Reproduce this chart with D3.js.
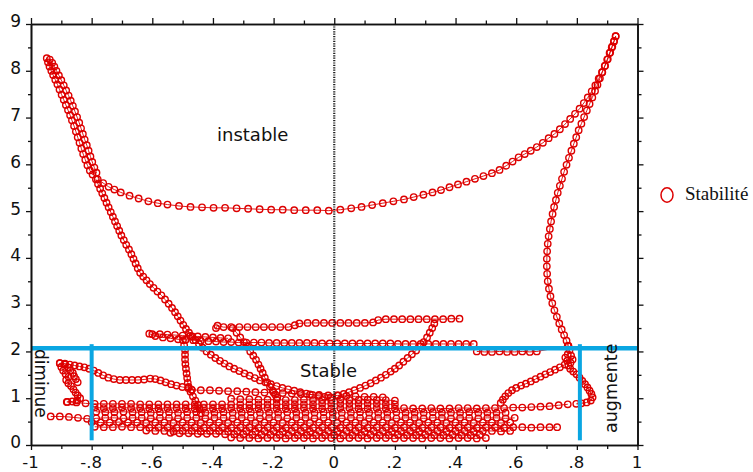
<!DOCTYPE html>
<html><head><meta charset="utf-8">
<script src="https://cdn.jsdelivr.net/npm/d3@7"></script>
<style>body{margin:0;background:#fff}svg{display:block}</style>
</head><body><svg id="c" width="753" height="472"></svg>
<script>
// ---------- axis ticks ----------
const xMajor = [-1,-0.8,-0.6,-0.4,-0.2,0,0.2,0.4,0.6,0.8,1];
const xMinor = [-0.9,-0.7,-0.5,-0.3,-0.1,0.1,0.3,0.5,0.7,0.9];
const xLabels = ["-1","-.8","-.6","-.4","-.2","0",".2",".4",".6",".8","1"];
const yMajor = [0,1,2,3,4,5,6,7,8,9];
const yMinor = [0.5,1.5,2.5,3.5,4.5,5.5,6.5,7.5,8.5];
const yLabels = ["0","1","2","3","4","5","6","7","8","9"];

// ---------- annotations ----------
const thresholdY = 2.07, leftMarkX = -0.80, rightMarkX = 0.81, markBottom = 0.10;
const seriesName = "Stabilité";

// ---------- series "Stabilité" (trajectory pieces) ----------
const topLeftBand = [[-0.948,8.27],[-0.944,8.18],[-0.939,8.09],[-0.933,8.00],[-0.927,7.91],[-0.920,7.81],[-0.913,7.71],[-0.906,7.60],[-0.899,7.49],[-0.892,7.38],[-0.885,7.27],[-0.878,7.16],[-0.871,7.05],[-0.865,6.94],[-0.858,6.82],[-0.852,6.70],[-0.846,6.58],[-0.840,6.46],[-0.834,6.34],[-0.828,6.22],[-0.821,6.10],[-0.814,5.98],[-0.806,5.87],[-0.797,5.78],[-0.784,5.82],[-0.791,5.93],[-0.798,6.05],[-0.804,6.17],[-0.810,6.29],[-0.816,6.41],[-0.823,6.53],[-0.829,6.65],[-0.835,6.77],[-0.841,6.89],[-0.848,7.01],[-0.855,7.13],[-0.862,7.25],[-0.869,7.36],[-0.876,7.47],[-0.884,7.58],[-0.892,7.69],[-0.900,7.80],[-0.908,7.90],[-0.916,8.00],[-0.923,8.09],[-0.930,8.17],[-0.938,8.24]];
const instableArc = [[-0.780,5.68],[-0.762,5.60],[-0.744,5.52],[-0.725,5.46],[-0.704,5.40],[-0.675,5.33],[-0.645,5.27],[-0.613,5.21],[-0.582,5.17],[-0.550,5.14],[-0.512,5.11],[-0.474,5.09],[-0.436,5.08],[-0.398,5.07],[-0.360,5.07],[-0.322,5.06],[-0.284,5.05],[-0.246,5.04],[-0.208,5.03],[-0.170,5.03],[-0.132,5.02],[-0.094,5.02],[-0.056,5.02],[-0.018,5.01],[0.020,5.03],[0.056,5.06],[0.090,5.09],[0.125,5.13],[0.160,5.17],[0.195,5.21],[0.230,5.25],[0.262,5.30],[0.294,5.35],[0.324,5.40],[0.352,5.45],[0.380,5.51],[0.408,5.57],[0.436,5.63],[0.464,5.69],[0.492,5.75],[0.520,5.81],[0.545,5.88],[0.567,5.97],[0.588,6.06],[0.608,6.15],[0.628,6.22],[0.648,6.29],[0.668,6.37],[0.688,6.46],[0.707,6.56],[0.726,6.65],[0.744,6.75],[0.761,6.86],[0.778,6.97],[0.794,7.08],[0.809,7.19],[0.823,7.31],[0.836,7.43],[0.849,7.56],[0.861,7.69],[0.872,7.83],[0.883,7.97],[0.893,8.11],[0.902,8.25],[0.910,8.39],[0.917,8.52],[0.923,8.64],[0.928,8.74]];
const rightDescent = [[0.928,8.74],[0.922,8.62],[0.915,8.50],[0.908,8.38],[0.900,8.24],[0.892,8.10],[0.884,7.97],[0.876,7.84],[0.868,7.70],[0.860,7.57],[0.851,7.43],[0.842,7.29],[0.833,7.15],[0.824,7.01],[0.815,6.87],[0.806,6.73],[0.798,6.58],[0.790,6.44],[0.782,6.29],[0.774,6.14],[0.766,5.99],[0.758,5.84],[0.751,5.69],[0.744,5.54],[0.737,5.39],[0.731,5.24],[0.725,5.09],[0.720,4.94],[0.715,4.78],[0.711,4.62],[0.707,4.46],[0.704,4.30],[0.702,4.14],[0.701,3.98],[0.701,3.82],[0.702,3.66],[0.704,3.50],[0.708,3.34],[0.713,3.18],[0.719,3.03],[0.726,2.88],[0.734,2.74],[0.742,2.60],[0.750,2.47],[0.758,2.35],[0.766,2.23],[0.772,2.12]];
const rightCluster = [[0.772,2.12],[0.776,2.03],[0.770,1.94],[0.762,1.87],[0.768,1.80],[0.779,1.76],[0.786,1.83],[0.781,1.91],[0.772,1.70],[0.778,1.63],[0.788,1.57],[0.799,1.51],[0.809,1.44],[0.818,1.37],[0.827,1.30],[0.835,1.23],[0.842,1.16],[0.848,1.09],[0.852,1.02],[0.846,0.95],[0.832,0.91],[0.815,0.89],[0.798,0.88]];
const rightDiagonal = [[0.760,1.72],[0.744,1.66],[0.728,1.61],[0.712,1.56],[0.696,1.51],[0.680,1.46],[0.664,1.41],[0.648,1.36],[0.632,1.31],[0.616,1.27],[0.600,1.22],[0.586,1.17],[0.574,1.11],[0.564,1.04],[0.556,0.97],[0.549,0.90]];
const rightShelf = [[0.470,2.00],[0.495,1.99],[0.520,1.99],[0.545,2.00],[0.570,1.99],[0.595,1.99],[0.620,2.00],[0.645,1.99],[0.668,2.00],[0.770,2.12]];
const leftDescent = [[-0.786,5.68],[-0.779,5.58],[-0.772,5.48],[-0.765,5.38],[-0.758,5.28],[-0.751,5.18],[-0.744,5.08],[-0.737,4.98],[-0.730,4.88],[-0.723,4.78],[-0.716,4.68],[-0.709,4.58],[-0.702,4.48],[-0.694,4.38],[-0.686,4.28],[-0.677,4.18],[-0.669,4.08],[-0.662,3.98],[-0.655,3.88],[-0.648,3.78],[-0.640,3.68],[-0.630,3.60],[-0.619,3.52],[-0.608,3.44],[-0.596,3.36],[-0.583,3.28],[-0.570,3.20],[-0.558,3.11],[-0.546,3.02],[-0.535,2.93],[-0.525,2.84],[-0.516,2.75],[-0.507,2.66],[-0.498,2.57],[-0.489,2.48],[-0.479,2.40],[-0.468,2.32],[-0.457,2.24],[-0.446,2.16],[-0.434,2.08],[-0.421,2.00],[-0.407,1.93],[-0.392,1.86],[-0.377,1.80],[-0.362,1.74],[-0.346,1.68],[-0.330,1.63],[-0.313,1.58],[-0.296,1.53],[-0.279,1.48],[-0.262,1.43],[-0.245,1.38],[-0.227,1.34],[-0.209,1.30],[-0.190,1.26],[-0.171,1.22],[-0.152,1.19],[-0.132,1.16],[-0.112,1.13],[-0.092,1.10],[-0.072,1.07],[-0.052,1.05],[-0.032,1.03],[-0.012,1.02]];
const shelfUpper = [[-0.390,2.50],[-0.385,2.55],[-0.365,2.52],[-0.340,2.52],[-0.313,2.52],[-0.286,2.52],[-0.259,2.52],[-0.232,2.52],[-0.205,2.52],[-0.178,2.52],[-0.151,2.52],[-0.130,2.56],[-0.115,2.60],[-0.088,2.61],[-0.061,2.61],[-0.034,2.61],[-0.007,2.61],[0.020,2.61],[0.047,2.61],[0.074,2.61],[0.101,2.61],[0.128,2.62],[0.145,2.67],[0.170,2.69],[0.197,2.69],[0.224,2.69],[0.251,2.69],[0.278,2.69],[0.305,2.69],[0.332,2.69],[0.359,2.69],[0.386,2.70],[0.413,2.70]];
const shelfMid = [[-0.610,2.38],[-0.590,2.33],[-0.565,2.30],[-0.540,2.28],[-0.515,2.26],[-0.490,2.25],[-0.465,2.24],[-0.440,2.23],[-0.415,2.22],[-0.390,2.21],[-0.365,2.20],[-0.340,2.20],[-0.315,2.19],[-0.290,2.19],[-0.265,2.19],[-0.240,2.19],[-0.215,2.18],[-0.190,2.18],[-0.165,2.18],[-0.140,2.18],[-0.115,2.18],[-0.090,2.18],[-0.065,2.18],[-0.040,2.17],[-0.015,2.17],[0.010,2.17],[0.035,2.17],[0.060,2.17],[0.085,2.17],[0.110,2.17],[0.135,2.17],[0.160,2.17],[0.185,2.17],[0.210,2.16],[0.235,2.16],[0.260,2.16],[0.285,2.16],[0.310,2.16],[0.335,2.16],[0.360,2.16],[0.385,2.16],[0.410,2.16],[0.435,2.16],[0.460,2.16]];
const shelfMid2 = [[-0.600,2.37],[-0.575,2.37],[-0.550,2.36],[-0.525,2.35],[-0.500,2.34],[-0.475,2.33],[-0.450,2.32],[-0.425,2.31],[-0.400,2.30],[-0.375,2.29],[-0.350,2.28]];
const vRight = [[0.330,2.60],[0.323,2.50],[0.315,2.40],[0.306,2.30],[0.295,2.20],[0.283,2.11],[0.270,2.02],[0.256,1.94],[0.242,1.86],[0.228,1.78],[0.214,1.70],[0.200,1.63],[0.186,1.57],[0.170,1.50],[0.154,1.44],[0.137,1.38],[0.120,1.32],[0.103,1.27],[0.085,1.22],[0.067,1.17],[0.049,1.13],[0.031,1.09],[0.013,1.06]];
const dropA = [[-0.335,2.50],[-0.322,2.40],[-0.310,2.30],[-0.298,2.20],[-0.287,2.10],[-0.277,2.00],[-0.267,1.91],[-0.258,1.82],[-0.250,1.72],[-0.243,1.63],[-0.236,1.54],[-0.229,1.44],[-0.221,1.34],[-0.212,1.25],[-0.203,1.16],[-0.195,1.08],[-0.188,1.01]];
const dropB = [[-0.499,2.24],[-0.495,2.13],[-0.492,2.03],[-0.492,1.93],[-0.492,1.83],[-0.491,1.73],[-0.489,1.63],[-0.487,1.53],[-0.485,1.43],[-0.483,1.33],[-0.480,1.24],[-0.474,1.14],[-0.466,1.04],[-0.458,0.95],[-0.450,0.86],[-0.444,0.77],[-0.440,0.68]];
const leftLoop = [[-0.905,1.75],[-0.900,1.67],[-0.894,1.59],[-0.886,1.52],[-0.876,1.46],[-0.884,1.39],[-0.877,1.32],[-0.868,1.26],[-0.860,1.19],[-0.853,1.12],[-0.846,1.06],[-0.838,1.00],[-0.848,0.95],[-0.864,0.93],[-0.882,0.92]];
const leftLoop2 = [[-0.888,1.72],[-0.878,1.66],[-0.870,1.60],[-0.862,1.54],[-0.858,1.47],[-0.852,1.41],[-0.846,1.34]];
const leftRow = [[-0.905,1.75],[-0.888,1.74],[-0.872,1.72],[-0.856,1.70],[-0.840,1.68],[-0.824,1.66],[-0.808,1.63],[-0.793,1.59],[-0.778,1.54],[-0.762,1.49],[-0.745,1.44],[-0.727,1.41],[-0.707,1.39],[-0.687,1.39],[-0.667,1.39],[-0.647,1.39],[-0.627,1.40],[-0.607,1.42],[-0.590,1.41],[-0.573,1.38],[-0.556,1.34],[-0.538,1.30],[-0.520,1.27],[-0.501,1.24],[-0.482,1.22],[-0.470,1.18]];
const rowA = [[-0.47,1.18],[-0.44,1.17],[-0.41,1.17],[-0.38,1.16],[-0.35,1.15],[-0.32,1.15],[-0.29,1.14],[-0.26,1.13],[-0.23,1.12],[-0.20,1.12],[-0.17,1.11],[-0.14,1.10],[-0.11,1.09],[-0.08,1.08],[-0.05,1.07],[-0.02,1.06],[0.01,1.06],[0.04,1.05],[0.07,1.04],[0.10,1.03],[0.13,1.03],[0.16,1.02]];
const rowB = [[-0.34,0.99],[-0.31,0.98],[-0.28,0.98],[-0.25,0.97],[-0.22,0.97],[-0.19,0.97],[-0.16,0.96],[-0.13,0.96],[-0.10,0.97],[-0.07,0.96],[-0.04,0.96],[-0.01,0.96],[0.02,0.97],[0.05,0.96],[0.08,0.96],[0.11,0.97],[0.14,0.96],[0.17,0.96],[0.20,0.95]];
const rowC = [[-0.88,0.92],[-0.85,0.91],[-0.82,0.89],[-0.79,0.88],[-0.76,0.88],[-0.73,0.88],[-0.70,0.88],[-0.67,0.88],[-0.64,0.87],[-0.61,0.87],[-0.58,0.87],[-0.55,0.87],[-0.52,0.87],[-0.49,0.87],[-0.46,0.87],[-0.43,0.87],[-0.40,0.87],[-0.37,0.87],[-0.34,0.87],[-0.31,0.87],[-0.28,0.87],[-0.25,0.87],[-0.22,0.87],[-0.19,0.87],[-0.16,0.87],[-0.13,0.87],[-0.10,0.87],[-0.07,0.87],[-0.04,0.88],[-0.01,0.88],[0.02,0.88],[0.05,0.88],[0.08,0.88],[0.11,0.88],[0.14,0.88],[0.17,0.87],[0.20,0.87]];
const rowD = [[-0.79,0.80],[-0.76,0.79],[-0.73,0.79],[-0.70,0.80],[-0.67,0.79],[-0.64,0.79],[-0.61,0.78],[-0.58,0.78],[-0.55,0.79],[-0.52,0.79],[-0.49,0.78],[-0.46,0.78],[-0.43,0.79],[-0.40,0.78],[-0.37,0.78],[-0.34,0.79],[-0.31,0.78],[-0.28,0.78],[-0.25,0.78],[-0.22,0.79],[-0.19,0.78],[-0.16,0.78],[-0.13,0.78],[-0.10,0.79],[-0.07,0.78],[-0.04,0.78],[-0.01,0.78],[0.02,0.79],[0.05,0.79],[0.08,0.78],[0.11,0.78],[0.14,0.79],[0.17,0.78],[0.20,0.78],[0.23,0.79],[0.26,0.78],[0.29,0.78],[0.32,0.79],[0.35,0.78],[0.38,0.78],[0.41,0.79],[0.44,0.79],[0.47,0.78],[0.50,0.79],[0.53,0.79],[0.56,0.79],[0.59,0.80],[0.62,0.80],[0.65,0.81],[0.68,0.82],[0.71,0.83],[0.74,0.85],[0.77,0.87]];
const rowE = [[-0.785,0.71],[-0.755,0.70],[-0.725,0.70],[-0.695,0.71],[-0.665,0.70],[-0.635,0.70],[-0.605,0.69],[-0.575,0.70],[-0.545,0.70],[-0.515,0.69],[-0.485,0.70],[-0.455,0.70],[-0.425,0.69],[-0.395,0.69],[-0.365,0.70],[-0.335,0.69],[-0.305,0.69],[-0.275,0.70],[-0.245,0.69],[-0.215,0.69],[-0.185,0.69],[-0.155,0.70],[-0.125,0.69],[-0.095,0.69],[-0.065,0.69],[-0.035,0.70],[-0.005,0.69],[0.025,0.69],[0.055,0.69],[0.085,0.70],[0.115,0.69],[0.145,0.69],[0.175,0.69],[0.205,0.70],[0.235,0.69],[0.265,0.69],[0.295,0.69],[0.325,0.70],[0.355,0.69],[0.385,0.69],[0.415,0.69],[0.445,0.70],[0.475,0.69],[0.505,0.69],[0.535,0.69],[0.565,0.69]];
const rowF = [[-0.935,0.61],[-0.905,0.61],[-0.875,0.60],[-0.845,0.58],[-0.815,0.56],[-0.785,0.57],[-0.755,0.58],[-0.725,0.58],[-0.695,0.57],[-0.665,0.58],[-0.635,0.58],[-0.605,0.57],[-0.575,0.58],[-0.545,0.58],[-0.515,0.57],[-0.485,0.58],[-0.455,0.58],[-0.425,0.57],[-0.395,0.58],[-0.365,0.58],[-0.335,0.57],[-0.305,0.58],[-0.275,0.58],[-0.245,0.57],[-0.215,0.58],[-0.185,0.58],[-0.155,0.57],[-0.125,0.58],[-0.095,0.58],[-0.065,0.57],[-0.035,0.58],[-0.005,0.58],[0.025,0.57],[0.055,0.58],[0.085,0.58],[0.115,0.57],[0.145,0.58],[0.175,0.58],[0.205,0.57],[0.235,0.58],[0.265,0.58],[0.295,0.57],[0.325,0.58],[0.355,0.58],[0.385,0.57],[0.415,0.58],[0.445,0.58],[0.475,0.57],[0.505,0.58],[0.535,0.58],[0.565,0.57],[0.595,0.58]];
const rowG = [[-0.80,0.49],[-0.77,0.48],[-0.74,0.48],[-0.71,0.49],[-0.68,0.48],[-0.65,0.48],[-0.62,0.47],[-0.59,0.48],[-0.56,0.48],[-0.53,0.47],[-0.50,0.48],[-0.47,0.48],[-0.44,0.47],[-0.41,0.48],[-0.38,0.48],[-0.35,0.47],[-0.32,0.48],[-0.29,0.48],[-0.26,0.47],[-0.23,0.48],[-0.20,0.48],[-0.17,0.47],[-0.14,0.48],[-0.11,0.48],[-0.08,0.47],[-0.05,0.48],[-0.02,0.48],[0.01,0.47],[0.04,0.48],[0.07,0.48],[0.10,0.47],[0.13,0.48],[0.16,0.48],[0.19,0.47],[0.22,0.48],[0.25,0.48],[0.28,0.47],[0.31,0.48],[0.34,0.48],[0.37,0.47],[0.40,0.48],[0.43,0.48],[0.46,0.47],[0.49,0.48],[0.52,0.48],[0.55,0.47],[0.58,0.48]];
const rowH = [[-0.79,0.39],[-0.76,0.38],[-0.73,0.38],[-0.70,0.39],[-0.67,0.38],[-0.64,0.38],[-0.61,0.37],[-0.58,0.38],[-0.55,0.38],[-0.52,0.37],[-0.49,0.38],[-0.46,0.38],[-0.43,0.37],[-0.40,0.38],[-0.37,0.38],[-0.34,0.37],[-0.31,0.38],[-0.28,0.38],[-0.25,0.37],[-0.22,0.38],[-0.19,0.38],[-0.16,0.37],[-0.13,0.38],[-0.10,0.38],[-0.07,0.37],[-0.04,0.38],[-0.01,0.38],[0.02,0.37],[0.05,0.38],[0.08,0.38],[0.11,0.37],[0.14,0.38],[0.17,0.38],[0.20,0.37],[0.23,0.38],[0.26,0.38],[0.29,0.37],[0.32,0.38],[0.35,0.38],[0.38,0.37],[0.41,0.38],[0.44,0.38],[0.47,0.37],[0.50,0.38],[0.53,0.38],[0.56,0.37],[0.59,0.38],[0.62,0.38],[0.65,0.37],[0.68,0.38],[0.71,0.38],[0.735,0.38]];
const rowI = [[-0.62,0.31],[-0.59,0.30],[-0.56,0.30],[-0.53,0.29],[-0.50,0.30],[-0.47,0.30],[-0.44,0.29],[-0.41,0.30],[-0.38,0.30],[-0.35,0.29],[-0.32,0.30],[-0.29,0.30],[-0.26,0.29],[-0.23,0.30],[-0.20,0.30],[-0.17,0.29],[-0.14,0.30],[-0.11,0.30],[-0.08,0.29],[-0.05,0.30],[-0.02,0.30],[0.01,0.29],[0.04,0.30],[0.07,0.30],[0.10,0.29],[0.13,0.30],[0.16,0.30],[0.19,0.29],[0.22,0.30],[0.25,0.30],[0.28,0.29],[0.31,0.30],[0.34,0.30],[0.37,0.29],[0.40,0.30],[0.43,0.30],[0.46,0.29],[0.49,0.30],[0.52,0.30],[0.55,0.29],[0.58,0.30]];
const rowJ = [[-0.54,0.26],[-0.51,0.25],[-0.48,0.25],[-0.45,0.24],[-0.42,0.24],[-0.39,0.24],[-0.36,0.23],[-0.33,0.23],[-0.30,0.23],[-0.27,0.22],[-0.24,0.22],[-0.21,0.22],[-0.18,0.22],[-0.15,0.21],[-0.12,0.21],[-0.09,0.21],[-0.06,0.21],[-0.03,0.21],[0.00,0.21],[0.03,0.21],[0.06,0.21],[0.09,0.21],[0.12,0.22],[0.15,0.21],[0.18,0.21],[0.21,0.22],[0.24,0.21],[0.27,0.21],[0.30,0.22],[0.33,0.21],[0.36,0.21],[0.39,0.22],[0.42,0.21],[0.45,0.21],[0.48,0.22]];
const rowK = [[-0.34,0.16],[-0.31,0.15],[-0.28,0.15],[-0.25,0.14],[-0.22,0.15],[-0.19,0.15],[-0.16,0.14],[-0.13,0.15],[-0.10,0.15],[-0.07,0.14],[-0.04,0.15],[-0.01,0.15],[0.02,0.14],[0.05,0.15],[0.08,0.15],[0.11,0.14],[0.14,0.15],[0.17,0.15],[0.20,0.14],[0.23,0.15],[0.26,0.15],[0.29,0.14],[0.32,0.15],[0.35,0.15],[0.38,0.14],[0.41,0.15],[0.44,0.15],[0.47,0.14],[0.50,0.15]];

const pieces = [topLeftBand, instableArc, rightDescent, rightCluster, rightDiagonal, rightShelf,
  leftDescent, shelfUpper, shelfMid, shelfMid2, vRight, dropA, dropB, leftLoop, leftLoop2, leftRow,
  rowA, rowB, rowC, rowD, rowE, rowF, rowG, rowH, rowI, rowJ, rowK];

// ---------- drawing ----------
const RED = "#dd0000", BLUE = "#0aa6e2";
const FONT = "'DejaVu Sans', Verdana, sans-serif";
const svg = d3.select("#c");
const x = d3.scaleLinear().domain([-1, 1]).range([31, 637.5]);
const y = d3.scaleLinear().domain([0, 9]).range([445, 24]);

// series
const line = d3.line().x(d => x(d[0])).y(d => y(d[1]));
const gS = svg.append("g");
pieces.forEach(p => {
  gS.append("path").attr("d", line(p)).attr("fill", "none").attr("stroke", RED).attr("stroke-width", 0.9);
});
pieces.forEach(p => {
  gS.append("g").selectAll("circle").data(p).join("circle")
    .attr("cx", d => x(d[0])).attr("cy", d => y(d[1])).attr("r", 3.2)
    .attr("fill", "none").attr("stroke", RED).attr("stroke-width", 1.4);
});

// zero dotted line
svg.append("line").attr("x1", x(0)).attr("x2", x(0)).attr("y1", y(9)).attr("y2", y(0))
  .attr("stroke", "#222").attr("stroke-width", 2.2).attr("stroke-dasharray", "1.2,1.2");

// blue markers
svg.append("line").attr("x1", x(-1)).attr("x2", x(1)).attr("y1", y(thresholdY)).attr("y2", y(thresholdY))
  .attr("stroke", BLUE).attr("stroke-width", 4.5);
[leftMarkX, rightMarkX].forEach(v => {
  svg.append("line").attr("x1", x(v)).attr("x2", x(v)).attr("y1", y(thresholdY) - 4).attr("y2", y(markBottom))
    .attr("stroke", BLUE).attr("stroke-width", 4);
});

// axes
function styleAxis(g) {
  g.select(".domain").attr("stroke", "#111").attr("stroke-width", 1.6);
  g.selectAll(".tick line").attr("stroke", "#111").attr("stroke-width", 1.3);
  g.selectAll(".tick text").attr("font-family", FONT).attr("font-size", 17).attr("fill", "#111");
}
const gB = svg.append("g").attr("transform", `translate(0,${y(0)})`)
  .call(d3.axisBottom(x).tickValues(xMajor).tickSize(5).tickSizeOuter(0).tickPadding(6).tickFormat((d, i) => xLabels[i]));
styleAxis(gB);
gB.selectAll(".tick text").attr("dx", "-1").attr("font-size", 16.5);
svg.append("g").attr("transform", `translate(0,${y(0)})`)
  .call(d3.axisBottom(x).tickValues(xMinor).tickSize(4).tickSizeOuter(0).tickFormat("")).call(styleAxis);
svg.append("g").attr("transform", `translate(0,${y(9)})`)
  .call(d3.axisTop(x).tickValues(xMajor).tickSize(6).tickSizeOuter(0).tickFormat("")).call(styleAxis);
svg.append("g").attr("transform", `translate(0,${y(9)})`)
  .call(d3.axisTop(x).tickValues(xMinor).tickSize(3.5).tickSizeOuter(0).tickFormat("")).call(styleAxis);
const gL = svg.append("g").attr("transform", `translate(${x(-1)},0)`)
  .call(d3.axisLeft(y).tickValues(yMajor).tickSize(5).tickSizeOuter(0).tickPadding(5).tickFormat((d, i) => yLabels[i]));
styleAxis(gL);
gL.selectAll(".tick text").attr("dy", "0.17em");
svg.append("g").attr("transform", `translate(${x(-1)},0)`)
  .call(d3.axisLeft(y).tickValues(yMinor).tickSize(3).tickSizeOuter(0).tickFormat("")).call(styleAxis);
svg.append("g").attr("transform", `translate(${x(1)},0)`)
  .call(d3.axisRight(y).tickValues(yMajor).tickSize(6).tickSizeOuter(0).tickFormat("")).call(styleAxis);
svg.append("g").attr("transform", `translate(${x(1)},0)`)
  .call(d3.axisRight(y).tickValues(yMinor).tickSize(4).tickSizeOuter(0).tickFormat("")).call(styleAxis);

// annotations
svg.append("text").attr("x", 217).attr("y", 141).attr("font-family", FONT).attr("font-size", 18).attr("fill", "#111").text("instable");
svg.append("text").attr("x", 300).attr("y", 377).attr("font-family", FONT).attr("font-size", 18).attr("fill", "#111").text("Stable");
svg.append("text").attr("transform", "translate(35,349) rotate(90)").attr("font-family", FONT).attr("font-size", 17).attr("fill", "#111").text("diminue");
svg.append("text").attr("transform", "translate(617,433) rotate(-90)").attr("font-family", FONT).attr("font-size", 17.5).attr("fill", "#111").text("augmente");

// legend
svg.append("ellipse").attr("cx", 667).attr("cy", 195).attr("rx", 6).attr("ry", 7.2)
  .attr("fill", "none").attr("stroke", RED).attr("stroke-width", 1.5);
svg.append("text").attr("x", 685).attr("y", 200).attr("font-family", "'Liberation Serif', 'Times New Roman', serif")
  .attr("font-size", 19).attr("fill", "#111").text(seriesName);
</script>
</body></html>
